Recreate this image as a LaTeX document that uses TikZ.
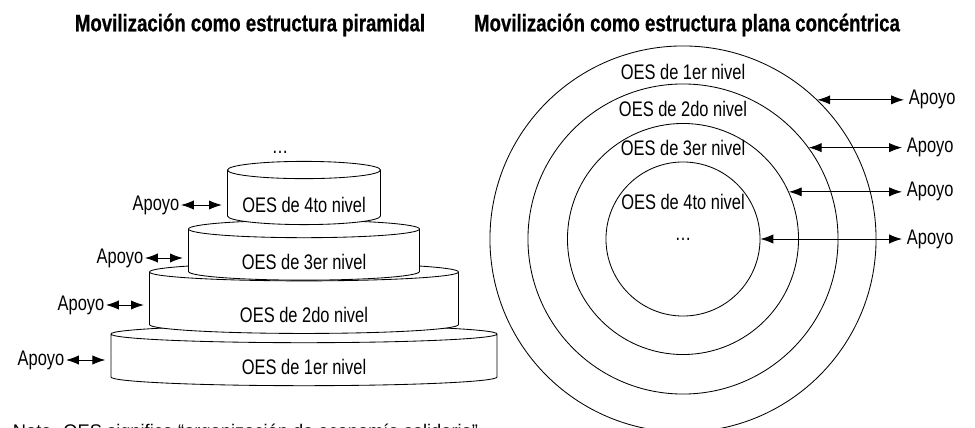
\documentclass[tikz,border=0pt]{standalone}
\usepackage{fontspec}
\setmainfont{Liberation Sans}[FakeStretch=0.78, BoldFont={Liberation Sans Bold}, BoldFeatures={FakeBold=0.6}]
\newfontfamily\notafont{Liberation Sans}
\usetikzlibrary{shapes.geometric, arrows.meta, positioning}

\begin{document}
\begin{tikzpicture}[
    x=0.025cm, y=-0.025cm,
    nivel/.style={cylinder, shape border rotate=90, aspect=0.13, draw, fill=white, line width=0.6pt, text height=0.66cm, text depth=0pt, font=\fontsize{15}{18}\selectfont},
    anillo/.style={circle, draw, line width=0.6pt, inner sep=0pt},
    etiqueta/.style={font=\fontsize{15}{18}\selectfont},
    titulo/.style={font=\bfseries\fontsize{17}{20}\selectfont},
    apoyo/.style={{Latex[length=3.2mm,width=2.3mm]}-{Latex[length=3.2mm,width=2.3mm]}, line width=0.6pt}
]
\useasboundingbox (0,0) rectangle (975,428);

\node[titulo] (tpir) at (250,25) {Movilización como estructura piramidal};
\node[titulo] (tcon) at (687,25) {Movilización como estructura plana concéntrica};

% piramide
\node[nivel, minimum width=9.65cm, minimum height=1.45cm] (n1) at (304,361) {OES de 1er nivel};
\node[nivel, minimum width=7.725cm, minimum height=1.55cm, text height=0.9cm] (n2) at (304,304) {OES de 2do nivel};
\node[nivel, minimum width=5.775cm, minimum height=1.42cm] (n3) at (304,256) {OES de 3er nivel};
\node[nivel, minimum width=3.825cm, minimum height=1.58cm] (n4) at (304,199) {OES de 4to nivel};
\node[etiqueta] (pdots) at (280,152) {…};

\node[etiqueta, anchor=east, inner sep=1pt] (ap1) at (66,360) {Apoyo};
\node[etiqueta, anchor=east, inner sep=1pt] (ap2) at (106,305) {Apoyo};
\node[etiqueta, anchor=east, inner sep=1pt] (ap3) at (145,258) {Apoyo};
\node[etiqueta, anchor=east, inner sep=1pt] (ap4) at (181,205) {Apoyo};

\draw[apoyo, shorten >=0.13cm] (ap1) -- (ap1 -| n1.west);
\draw[apoyo, shorten >=0.13cm] (ap2) -- (ap2 -| n2.west);
\draw[apoyo, shorten >=0.13cm] (ap3) -- (ap3 -| n3.west);
\draw[apoyo, shorten >=0.13cm] (ap4) -- (ap4 -| n4.west);

% circulos
\node[anillo, minimum size=9.65cm] (c1) at (683,239) {};
\node[anillo, minimum size=7.75cm] (c2) at (683,239) {};
\node[anillo, minimum size=5.775cm] (c3) at (683,239) {};
\node[anillo, minimum size=3.85cm] (c4) at (683,239) {};

\node[etiqueta] (t1) at (683,72) {OES de 1er nivel};
\node[etiqueta] (t2) at (683,109) {OES de 2do nivel};
\node[etiqueta] (t3) at (683,148) {OES de 3er nivel};
\node[etiqueta] (t4) at (683,202) {OES de 4to nivel};
\node[etiqueta] (cdots) at (683,239) {…};

\node[etiqueta, anchor=west] (ra1) at (c1.46.5 -| 904,0) {Apoyo};
\node[etiqueta, anchor=west] (ra2) at (c2.36.4 -| 902,0) {Apoyo};
\node[etiqueta, anchor=west] (ra3) at (c3.24 -| 902,0) {Apoyo};
\node[etiqueta, anchor=west] (ra4) at (c4.0 -| 902,0) {Apoyo};

\draw[apoyo] (c1.46.5) -- (ra1);
\draw[apoyo] (c2.36.4) -- (ra2);
\draw[apoyo] (c3.24) -- (ra3);
\draw[apoyo] (c4.0) -- (ra4);

\node[font=\notafont\fontsize{13}{16}\selectfont, anchor=base west] (nota) at (8,437) {Nota. OES significa “organización de economía solidaria”.};

\end{tikzpicture}
\end{document}
